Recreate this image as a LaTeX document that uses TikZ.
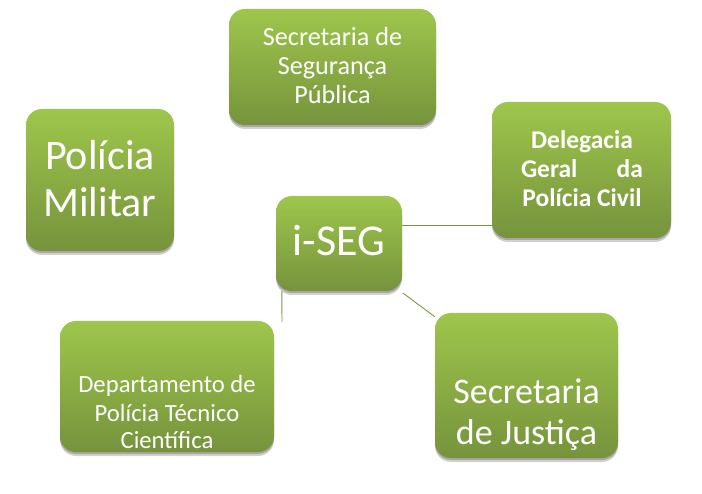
\documentclass[tikz,border=0pt]{standalone}
\usepackage{fontspec}
\setmainfont{Carlito}
\usetikzlibrary{shadows,calc}
\definecolor{gtop}{RGB}{158,198,76}
\definecolor{gbot}{RGB}{118,147,60}
\definecolor{lnk}{RGB}{122,150,66}
\tikzset{
  gbox/.style={rectangle, rounded corners=16pt, inner sep=0pt, top color=gtop, bottom color=gbot, draw=none,
    drop shadow={shadow xshift=0pt, shadow yshift=-4pt, opacity=0.18, fill=black},
    drop shadow={shadow xshift=0pt, shadow yshift=-2pt, opacity=0.2, fill=black}},
  txt/.style={anchor=base, text=white, inner sep=0pt},
  link/.style={draw=lnk, line width=0.9pt}
}
\begin{document}
\begin{tikzpicture}[x=1pt,y=-1pt]
\useasboundingbox (0,0) rectangle (702,494);
\fill[white] (0,0) rectangle (702,494);
% boxes
\node[gbox, minimum width=207pt, minimum height=116pt] (ssp) at (332.5,67) {};
\node[gbox, minimum width=148pt, minimum height=142pt] (pm) at (100,180) {};
\node[gbox, minimum width=179pt, minimum height=136pt] (del) at (581.5,170) {};
\node[gbox, minimum width=126pt, minimum height=95pt] (iseg) at (339,243.5) {};
\node[gbox, minimum width=214pt, minimum height=131pt] (dept) at (167,386.5) {};
\node[gbox, minimum width=183pt, minimum height=145pt] (just) at (526.5,385.5) {};
% connectors
\draw[link] ([yshift=18.5pt]iseg.east) -- ([yshift=18.5pt]iseg.east -| del.west);
\coordinate (dend) at (282,322);
\draw[link] ([xshift=6pt]iseg.south west) -- (dend);
\draw[link] ([xshift=1pt,yshift=-2pt]iseg.south east) -- ([yshift=-4pt]just.north west);
% texts
\node[txt, font=\fontsize{26.2}{29}\selectfont] (ssp1) at (332.5,46) {Secretaria de};
\node[txt, font=\fontsize{26.2}{29}\selectfont] (ssp2) at (332.5,75) {Segurança};
\node[txt, font=\fontsize{26.2}{29}\selectfont] (ssp3) at (332.5,104) {Pública};
\node[txt, font=\fontsize{42}{47}\selectfont] (pm1) at (100,170) {Polícia};
\node[txt, font=\fontsize{42}{47}\selectfont] (pm2) at (100,217) {Militar};
\node[txt, font=\bfseries\fontsize{25.5}{29}\selectfont] (del1) at (582,149) {Delegacia};
\node[txt, font=\bfseries\fontsize{25.5}{29}\selectfont] (del2) at (582,178) {\makebox[122pt]{Geral\hfill da}};
\node[txt, font=\bfseries\fontsize{25.5}{29}\selectfont] (del3) at (582,207) {Polícia Civil};
\node[txt, font=\fontsize{44}{50}\selectfont] (iseg1) at (339,256) {i-SEG};
\node[txt, font=\fontsize{24.7}{28}\selectfont] (dept1) at (167,393) {Departamento de};
\node[txt, font=\fontsize{24.7}{28}\selectfont] (dept2) at (167,422) {Polícia Técnico};
\node[txt, font=\fontsize{24.7}{28}\selectfont] (dept3) at (167,448) {Científica};
\node[txt, font=\fontsize{36}{41}\selectfont] (just1) at (526.5,403) {Secretaria};
\node[txt, font=\fontsize{36}{41}\selectfont] (just2) at (526.5,444) {de Justiça};
\end{tikzpicture}
\end{document}
